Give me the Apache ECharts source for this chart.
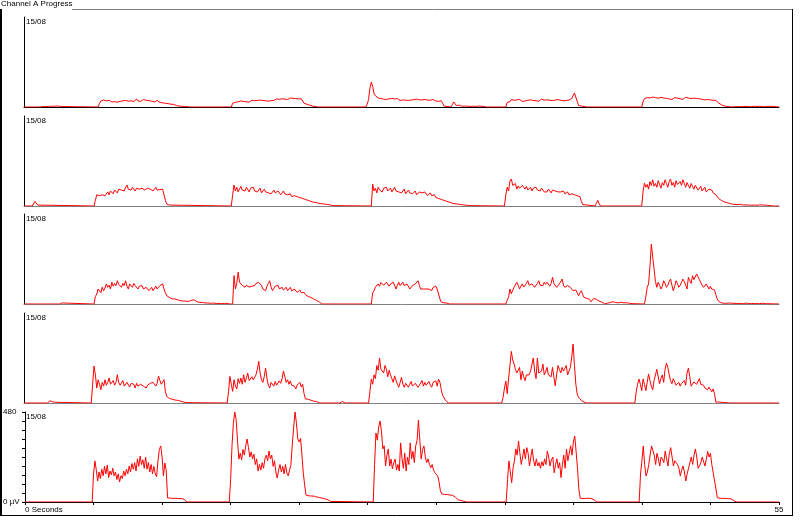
<!DOCTYPE html>
<html><head><meta charset="utf-8">
<script src="https://cdn.jsdelivr.net/npm/echarts@6/dist/echarts.min.js"></script>
<style>html,body{margin:0;padding:0;background:#fff}#c{width:800px;height:522px}</style>
</head><body><div id="c"></div><script>
// ---------- data ----------
const SAMPLE_STEP = 0.1;           // seconds between samples inside a burst
const X_MIN = 0, X_MAX = 55, X_TICK = 5;
const Y_MIN = 0, Y_MAX = 480, Y_TICK = 48;
const titleText = 'Channel A Progress';
const panelDates = ['15/08', '15/08', '15/08', '15/08', '15/08'];
const xMinLabel = '0 Seconds', xMaxLabel = '55';
const yMaxLabel = '480', yMinLabel = '0 µV';

// Panel 1 (top)
const p1Starts = [1.2, 5.4, 15.1, 24.9, 31.1, 35.1, 45.0, 51.6];
const p1n1 = [0,4,3,5,2,4,3,5,4,3,4,2,5,3,4,3,2,4,3,5,2,0];
const p1b1 = [0,20,32,25,37,28,33,25,35,30,27,34,28,32,26,35,30,27,33,29,35,28,31,26,33,38,30,35,43,32,38,30,34,40,32,36,30,34,28,31,33,27,30,35,28,25,30,22,27,20,25,18,22,15,12,14,10,8,7,5,6,4,5,3,4,2,1,0];
const p1b2 = [0,20,30,25,33,28,24,32,27,30,34,28,31,26,33,36,30,34,29,35,32,37,30,35,40,33,36,31,38,34,40,35,38,43,36,41,38,44,39,42,46,40,44,48,42,46,41,45,48,43,47,44,40,20,28,15,22,10,12,5,6,3,2,0];
const p1b3 = [0,15,40,100,133,110,71,60,53,48,55,45,50,42,48,40,46,44,38,45,40,43,37,45,40,35,42,38,44,36,40,35,42,37,33,40,36,42,34,38,32,38,35,40,33,37,30,36,33,40,35,32,38,30,35,33,20,5,0];
const p1n2 = [0,12,27,18,8,6,10,5,4,6,5,8,4,5,3,6,4,5,3,4,5,3,4,2,3,2,0];
const p1b4 = [0,25,35,28,40,32,36,30,38,33,40,35,30,37,32,42,36,33,38,30,35,40,33,38,31,36,42,34,37,32,38,33,36,40,34,31,37,35,39,32,36,40,33,38,35,42,37,40,45,50,75,80,30,8,6,5,4,3,2,0];
const p1b5 = [0,30,45,38,50,42,48,40,53,45,50,42,47,39,52,44,48,41,46,50,43,48,40,45,50,42,47,39,44,48,41,46,52,44,48,40,45,42,47,43,46,40,44,48,41,45,38,43,40,44,38,42,36,40,35,30,22,18,12,8,6,5,3,4,2,0];
const p1n3 = [0,3,2,4,2,3,2,4,3,2,3,4,2,3,2,3,4,2,3,2,4,3,2,3,2,3,4,2,3,2,3,0];
const p1Bursts = [p1n1, p1b1, p1b2, p1b3, p1n2, p1b4, p1b5, p1n3];

// Panel 2
const p2Starts = [0.6, 5.1, 15.1, 25.3, 35.0, 41.6, 45.0];
const p2n1 = [0,10,24,15,5,0];
const p2b1 = [0,30,60,50,55,45,60,70,55,65,75,60,80,70,65,85,75,70,90,80,85,95,80,100,112,90,95,85,100,90,80,95,85,90,80,95,100,85,90,95,85,90,95,80,90,100,85,95,88,92,90,85,30,10,8,5,0];
const p2b2 = [0,60,112,80,100,75,90,105,85,95,80,100,90,75,95,85,100,80,90,75,85,95,70,80,90,75,85,70,80,65,75,85,70,65,80,75,60,70,80,65,70,60,55,65,50,60,55,45,50,40,45,35,40,30,35,25,30,22,25,18,20,15,18,12,14,10,12,8,10,6,8,5,6,3,2,0];
const p2b3 = [0,117,80,95,70,100,85,90,75,95,85,100,80,90,95,75,85,100,80,90,75,85,70,80,90,65,75,85,70,80,65,75,80,60,70,75,65,70,60,75,65,55,60,70,55,50,60,45,50,40,45,35,40,30,35,25,28,20,24,15,18,12,15,10,12,8,10,6,7,4,5,2,0];
const p2b4 = [0,60,100,80,133,144,110,100,120,90,107,95,85,110,100,90,105,85,95,100,80,95,90,100,85,90,80,95,85,75,85,75,90,80,70,85,75,80,70,75,65,75,70,80,65,70,75,60,70,65,70,60,65,55,60,50,25,8,0];
const p2n2 = [0,15,30,12,0];
const p2b5 = [0,80,122,100,115,90,130,110,140,105,120,100,135,115,95,125,110,140,120,100,130,144,110,125,100,135,115,105,130,110,140,120,100,125,110,95,120,105,90,110,100,85,95,105,80,90,100,75,85,90,80,85,70,75,60,50,40,35,30,25,22,20,18,15,14,12,10,9,8,10,8,6,9,7,5,8,6,7,5,6,4,6,5,7,4,5,6,4,5,3,5,4,3,4,2,3,0];
const p2Bursts = [p2n1, p2b1, p2b2, p2b3, p2b4, p2n2, p2b5];

// Panel 3
const p3Starts = [2.6, 5.1, 15.2, 25.3, 35.1, 45.2];
const p3n1 = [0,4,6,3,5,0];
const p3b1 = [0,40,53,80,71,60,90,71,85,107,89,100,80,116,95,110,98,124,105,98,89,110,98,124,95,80,107,98,89,110,98,89,80,95,89,98,80,71,89,80,71,80,89,71,80,95,80,71,98,89,107,80,60,44,40,35,30,27,25,27,25,22,20,18,18,16,15,15,14,14,16,20,27,22,15,12,10,9,8,8,7,6,6,5,5,4,4,5,4,3,4,3,4,3,5,3,4,3,2,0];
const p3b2 = [0,151,80,110,170,116,124,100,110,89,100,107,90,80,95,85,98,110,107,115,124,100,80,90,71,95,110,124,90,71,80,95,89,100,80,85,89,75,80,89,71,80,89,70,75,80,71,62,71,75,60,53,62,50,44,40,36,35,30,27,24,20,18,12,5,0];
const p3b3 = [0,60,71,90,80,107,95,115,124,100,107,116,124,95,107,98,116,124,80,100,116,98,107,116,98,89,107,98,80,89,98,89,107,116,124,100,80,71,80,89,80,71,80,89,71,89,80,95,80,71,27,10,5,6,4,5,3,0];
const p3b4 = [0,20,36,80,55,62,90,80,116,100,80,95,107,90,98,110,124,100,98,107,100,89,98,110,124,100,107,98,116,105,116,107,95,110,142,110,100,89,98,107,116,133,100,89,95,98,100,89,80,71,80,75,60,44,60,71,50,35,27,30,36,25,12,20,30,36,25,18,15,18,10,5,0,0,4,6,8,10,12,10,8,9,6,9,10,8,6,9,7,5,4,3,2,0];
const p3b5 = [0,40,89,107,200,320,250,187,120,89,116,100,80,95,124,110,89,100,120,133,100,71,95,124,110,89,100,115,133,120,100,80,142,124,110,151,130,140,160,145,130,124,100,89,95,107,100,80,95,80,89,75,50,27,15,9,6,5,4,3,4,3,5,3,4,2,3,4,3,2,3,4,2,3,5,3,2,4,3,2,3,4,2,3,2,3,4,3,2,0];
const p3Bursts = [p3n1, p3b1, p3b2, p3b3, p3b4, p3b5];

// Panel 4
const p4Starts = [1.7, 4.9, 14.8, 23.0, 25.1, 34.8, 44.5];
const p4n1 = [0,8,12,10,6,10,4,0];
const p4b1 = [0,100,197,150,80,124,100,71,110,90,124,95,110,133,100,90,120,95,110,151,110,95,100,120,90,95,110,100,85,105,95,100,80,105,90,85,100,110,90,100,80,95,90,105,95,110,100,90,105,144,120,100,110,125,60,35,28,24,22,20,18,16,15,14,12,10,8,6,4,2,0];
const p4b2 = [0,60,142,100,62,124,90,75,130,105,133,100,151,110,133,160,120,115,140,124,124,150,180,222,160,124,110,140,186,130,95,80,110,100,90,115,95,100,118,105,130,170,140,110,124,100,118,95,105,90,75,95,100,110,85,100,50,22,18,20,12,15,20,10,14,8,5,0];
const p4n2 = [0,5,8,4,0];
const p4b3 = [0,60,128,100,150,130,200,175,240,180,190,160,200,180,140,175,150,130,110,145,120,100,84,110,137,100,84,105,95,84,100,115,90,84,105,110,84,95,100,120,90,110,95,100,115,95,84,110,100,118,90,128,110,70,40,30,15,5,0];
const p4b4 = [0,30,80,117,50,128,200,275,230,208,180,160,150,190,124,170,140,119,150,160,150,170,180,240,170,130,240,160,150,170,208,150,165,190,150,160,140,190,186,92,150,200,180,160,190,170,185,200,150,170,190,245,315,200,100,48,30,20,14,8,5,3,0];
const p4b5 = [0,60,100,128,100,66,128,100,66,110,155,120,90,70,120,150,180,140,103,130,150,110,180,213,190,151,120,103,130,112,95,100,110,90,104,100,120,95,160,186,140,90,100,112,120,100,105,130,100,90,95,80,90,70,85,80,60,75,50,5,8,5,6,4,5,3,4,2,1,0];
const p4Bursts = [p4n1, p4b1, p4b2, p4n2, p4b3, p4b4, p4b5];

// Panel 5 (bottom)
const p5Starts = [4.9, 14.9, 25.4, 35.1, 44.8];
const p5b1 = [0,150,219,170,112,160,125,175,140,190,150,197,130,165,145,180,140,160,120,150,107,140,125,165,140,175,150,192,160,205,175,210,165,230,190,245,200,225,180,240,175,210,160,200,150,190,150,135,220,280,299,240,140,208,170,22,20,21,20,19,20,20,19,18,20,19,18,15,6,0];
const p5b2 = [0,120,300,420,480,440,330,229,260,225,280,250,300,336,290,240,267,229,255,200,230,165,200,170,210,180,230,250,220,272,230,250,190,220,160,128,170,200,160,190,150,200,155,140,135,200,309,400,480,420,336,320,340,250,155,90,37,35,33,34,32,30,31,28,26,25,24,22,20,18,16,14,12,8,3,0];
const p5b3 = [0,200,368,330,400,432,380,283,300,192,250,283,192,229,176,210,229,170,200,165,315,230,180,260,165,240,200,315,230,270,210,299,330,437,330,229,280,299,240,210,230,200,183,200,170,156,165,140,110,60,43,41,40,38,40,38,37,38,36,35,25,15,12,10,8,6,4,2,0];
const p5b4 = [0,120,219,160,103,180,219,283,250,325,260,200,240,283,230,290,260,192,240,283,220,192,230,192,210,180,215,192,230,200,272,240,192,225,240,156,200,230,180,210,130,200,250,180,283,220,260,300,250,320,352,270,180,70,20,20,18,20,19,18,20,18,19,17,12,6,0];
const p5b5 = [0,150,219,299,200,139,160,200,190,299,309,250,200,260,230,192,240,229,210,272,230,192,260,290,240,192,220,229,200,180,139,170,192,160,112,150,180,210,240,200,250,283,240,180,192,210,240,250,192,229,270,240,260,200,156,150,70,23,22,20,21,20,20,19,20,18,19,17,12,8,4,0];
const p5Bursts = [p5b1, p5b2, p5b3, p5b4, p5b5];

const panelStarts = [p1Starts, p2Starts, p3Starts, p4Starts, p5Starts];
const panelBursts = [p1Bursts, p2Bursts, p3Bursts, p4Bursts, p5Bursts];

// ---------- layout / style ----------
const FONT = 'Liberation Sans';
const GRID_LEFT = 24, GRID_RIGHT = 21, PANEL_H = 90;
const PANEL_TOPS = [17, 116, 214, 313, 412];
const BASE_COLORS = ['#000000', '#808080', '#808080', '#808080', '#000000'];
const LINE_COLOR = '#ff0000';

function buildLine(starts, bursts) {
  const pts = [[X_MIN, 0]];
  starts.forEach((s, k) => {
    bursts[k].forEach((v, j) => pts.push([+(s + j * SAMPLE_STEP).toFixed(2), v]));
  });
  pts.push([X_MAX, 0]);
  return pts;
}

const last = 4;
const grids = [], xAxes = [], yAxes = [], series = [], graphics = [];
PANEL_TOPS.forEach((top, i) => {
  grids.push({ left: GRID_LEFT, right: GRID_RIGHT, top: top, height: PANEL_H, containLabel: false });
  xAxes.push({
    gridIndex: i, type: 'value', min: X_MIN, max: X_MAX, interval: X_TICK,
    axisLine: { show: true, lineStyle: { color: BASE_COLORS[i], width: 1 } },
    axisTick: { show: i === last, length: 3, inside: false, lineStyle: { color: '#000' } },
    axisLabel: {
      show: i === last, fontSize: 8, fontFamily: FONT, color: '#000', margin: 4,
      showMinLabel: true, showMaxLabel: true, alignMinLabel: 'left', alignMaxLabel: 'center',
      formatter: v => v === X_MIN ? xMinLabel : (v === X_MAX ? xMaxLabel : '')
    },
    splitLine: { show: false }
  });
  yAxes.push({
    gridIndex: i, type: 'value', min: Y_MIN, max: Y_MAX, interval: Y_TICK,
    axisLine: { show: true, onZero: false, lineStyle: { color: '#000', width: 1 } },
    axisTick: { show: i === last, length: 3, inside: false, lineStyle: { color: '#000' } },
    axisLabel: {
      show: i === last, fontSize: 8, fontFamily: FONT, color: '#000', align: 'left', margin: 22,
      showMinLabel: true, showMaxLabel: true,
      formatter: v => v === Y_MAX ? yMaxLabel : (v === Y_MIN ? yMinLabel : '')
    },
    splitLine: { show: false }
  });
  series.push({
    type: 'line', xAxisIndex: i, yAxisIndex: i,
    data: buildLine(panelStarts[i], panelBursts[i]),
    showSymbol: false, symbol: 'none', silent: true, z: 3,
    lineStyle: { color: LINE_COLOR, width: 1 }
  });
  graphics.push({
    type: 'text', left: GRID_LEFT + 2, top: top + 1, silent: true,
    style: { text: panelDates[i], fontSize: 8, fontFamily: FONT, fill: '#000' }
  });
});

// title + group frame
graphics.push(
  { type: 'text', left: 1, top: 0, silent: true, style: { text: titleText, fontSize: 8, fontFamily: FONT, fill: '#000' } },
  { type: 'line', silent: true, shape: { x1: 72, y1: 9.5, x2: 792.5, y2: 9.5 }, style: { stroke: '#808080', lineWidth: 1 } },
  { type: 'line', silent: true, shape: { x1: 1, y1: 9, x2: 1, y2: 516 }, style: { stroke: '#000', lineWidth: 2 } },
  { type: 'line', silent: true, shape: { x1: 792.5, y1: 9, x2: 792.5, y2: 516 }, style: { stroke: '#000', lineWidth: 1 } },
  { type: 'line', silent: true, shape: { x1: 0, y1: 515.5, x2: 793, y2: 515.5 }, style: { stroke: '#000', lineWidth: 1 } }
);

const chart = echarts.init(document.getElementById('c'), null, { renderer: 'canvas' });
chart.setOption({
  animation: false,
  backgroundColor: '#ffffff',
  textStyle: { fontFamily: FONT },
  grid: grids, xAxis: xAxes, yAxis: yAxes, series: series,
  graphic: graphics
});
</script></body></html>
